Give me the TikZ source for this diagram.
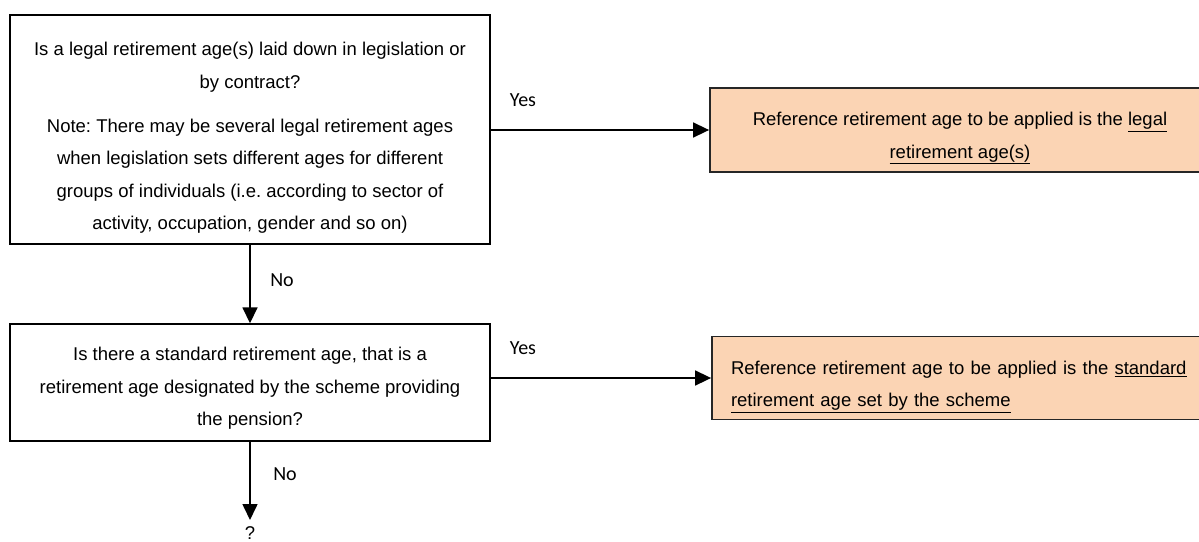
\documentclass[tikz,border=0pt]{standalone}
\usepackage{fontspec}
\setmainfont{Liberation Sans}
\newfontfamily\calfont{Carlito}
\usetikzlibrary{arrows.meta}
\definecolor{peach}{HTML}{FBD4B4}
\frenchspacing
\begin{document}
\begin{tikzpicture}[x=1pt,y=-1pt,
  txt/.style={font=\frenchspacing\fontsize{18.5}{32.5}\selectfont},
  box/.style={txt, draw=black, line width=1.4pt, inner sep=0pt, align=center},
  res/.style={txt, draw=black!85, line width=1.8pt, fill=peach, inner sep=0pt},
  lab/.style={font=\calfont\fontsize{20}{24}\selectfont, inner sep=0pt},
  arr/.style={line width=1.6pt, -{Triangle[length=16pt,width=15pt]}}
]
\useasboundingbox (0,0) rectangle (1199,541);

\node[box, minimum width=480pt, minimum height=229pt] (b1) at (250,129.5)
  {\rule{0pt}{30pt}Is a legal retirement age(s) laid down in legislation or\\
   by contract?\\[11.5pt]
   Note: There may be several legal retirement ages\\
   when legislation sets different ages for different\\
   groups of individuals (i.e. according to sector of\\
   activity, occupation, gender and so on)};

\node[box, minimum width=480pt, minimum height=117pt] (b2) at (250,382.5)
  {\rule{0pt}{25.5pt}Is there a standard retirement age, that is a\\
   retirement age designated by the scheme providing\\
   the pension?};

\node[res, align=center, minimum width=500pt, minimum height=84pt] (o1) at (960,130)
  {\rule{0pt}{30pt}Reference retirement age to be applied is the \underline{legal}\\
   \underline{retirement age(s)}};

\node[res, align=left, text width=460pt, inner xsep=19pt, minimum height=83pt] (o2) at (961,378)
  {\rule{0pt}{31pt}Reference retirement age to be applied is the \underline{standard}\\
   \underline{retirement age set by the scheme}};

\coordinate (qtop) at (250,520);
\node[txt, inner sep=0pt] (q) at (250,533) {?};

\draw[arr] (b1.south) -- (b2.north);
\draw[arr] (b2.south) -- (qtop);
\draw[arr] (b1.east |- o1.west) -- (o1.west);
\draw[arr] (b2.east |- o2.west) -- (o2.west);

\node[lab] (y1) at (523,100) {Yes};
\node[lab] (y2) at (523,348) {Yes};
\node[lab] (n1) at (282,280) {No};
\node[lab] (n2) at (285,474) {No};
\end{tikzpicture}
\end{document}
